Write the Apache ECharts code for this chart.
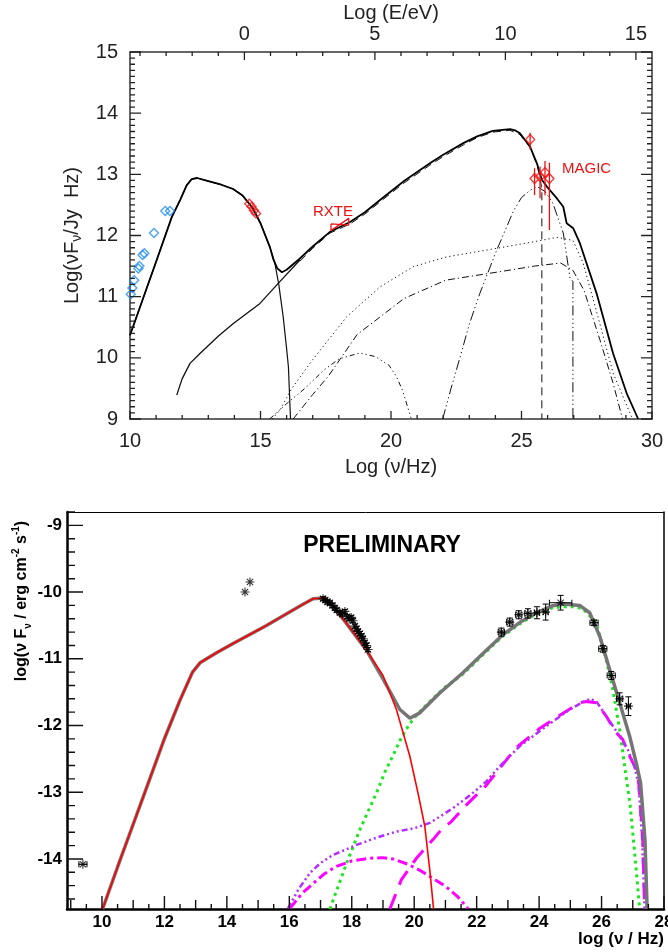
<!DOCTYPE html>
<html><head><meta charset="utf-8">
<script src="https://cdn.jsdelivr.net/npm/echarts@6/dist/echarts.min.js"></script>
<style>html,body{margin:0;padding:0;background:#fff}#c{width:668px;height:952px}</style>
</head><body><div id="c"></div>
<script>
// ================= TOP PANEL DATA (log nu [Hz], log nuFnu [Jy Hz]) =================
const topSync = [[10.0,10.37],[10.5,10.97],[11.0,11.57],[11.6,12.30],[11.92,12.58],[12.17,12.82],[12.36,12.92],[12.57,12.94],[13.0,12.89],[13.5,12.83],[13.95,12.76],[14.3,12.66],[14.7,12.45],[15.0,12.2],[15.36,11.81],[15.55,11.55],[15.7,11.2],[15.87,10.67],[16.0,10.15],[16.07,9.85],[16.15,9.0]];
const topTotal = [[10.0,10.37],[10.5,10.97],[11.0,11.57],[11.6,12.30],[11.92,12.58],[12.17,12.82],[12.36,12.92],[12.57,12.94],[13.0,12.89],[13.5,12.83],[13.95,12.76],[14.3,12.66],[14.7,12.45],[15.0,12.2],[15.36,11.81],[15.5,11.6],[15.65,11.46],[15.82,11.40],[16.0,11.44],[16.5,11.62],[17.0,11.82],[17.66,12.06],[18.0,12.13],[18.43,12.22],[19.0,12.38],[19.58,12.58],[20.5,12.89],[21.49,13.18],[22.0,13.32],[22.77,13.51],[23.3,13.62],[23.9,13.71],[24.56,13.74],[24.75,13.72],[24.94,13.67],[25.33,13.45],[25.59,13.18],[25.78,12.91],[25.97,12.80],[26.35,12.61],[26.6,12.47],[26.73,12.2],[26.98,12.12],[27.24,11.87],[27.88,11.05],[28.51,10.07],[29.03,9.42],[29.47,9.0]];
const topIC = [[11.79,9.39],[12.0,9.66],[12.3,9.91],[12.68,10.07],[13.4,10.36],[13.96,10.56],[14.98,10.89],[15.75,11.25],[16.51,11.6]];
const topDashed = [[16.51,11.58],[17.0,11.79],[17.66,12.04],[18.43,12.19],[19.0,12.35],[19.58,12.55],[20.5,12.86],[21.49,13.15],[22.0,13.29],[22.77,13.48],[23.3,13.6],[23.9,13.69],[24.56,13.72],[24.94,13.65],[25.33,13.44],[25.59,13.16],[25.72,12.92],[25.78,12.75],[25.78,9.0]];
const topDotted = [[15.45,9.0],[15.75,9.15],[16.2,9.5],[17.0,9.97],[18.3,10.67],[19.58,11.16],[20.85,11.49],[22.13,11.65],[24.05,11.79],[25.5,11.9],[26.36,11.97],[26.97,11.92],[27.36,11.55],[27.88,10.75],[28.51,9.75],[29.25,9.0]];
const topDashDot = [[16.25,9.0],[17.0,9.4],[17.6,9.7],[18.7,10.38],[19.77,10.73],[20.5,10.97],[22.1,11.27],[24.05,11.40],[25.5,11.5],[26.5,11.55],[26.97,11.43],[27.4,11.1],[28.0,10.3],[28.5,9.6],[28.87,9.0]];
const topLowBump = [[15.35,9.0],[16.0,9.25],[16.7,9.5],[17.43,9.8],[18.0,9.98],[18.8,10.08],[19.4,10.02],[19.92,9.88],[20.2,9.7],[20.44,9.47],[20.78,9.0]];
const topHighBump = [[21.98,9.0],[22.3,9.5],[22.64,10.0],[23.0,10.55],[23.4,11.05],[24.05,11.76],[24.7,12.41],[25.0,12.62],[25.33,12.74],[25.6,12.8],[25.9,12.72],[26.2,12.53],[26.6,12.04],[26.86,11.3],[26.97,11.25],[26.97,9.0]];
const radioPts = [[10.03,11.04],[10.09,11.14],[10.16,11.27],[10.32,11.46],[10.36,11.5],[10.48,11.68],[10.55,11.71],[10.92,12.04],[11.35,12.40],[11.53,12.40]];
const opticalPts = [[14.57,12.52],[14.66,12.47],[14.75,12.41],[14.83,12.36]];
const rxteBowtie = [[17.7,12.19],[18.38,12.17],[18.38,12.28],[17.7,12.08],[17.7,12.19]];
// MAGIC: [logNu, value, low, high]
const magicPts = [[25.33,13.57,13.41,13.68],[25.50,12.93,12.66,13.10],[25.71,12.96,12.61,13.13],[25.90,13.03,12.66,13.22],[26.07,12.93,12.09,13.19]];
// tick labels
const topNuTicks = [10,15,20,25,30];
const topYTicks = [9,10,11,12,13,14,15];
const LOGNU_PER_EV = 14.383;           // log10(nu/Hz) at E = 1 eV
const topETicks = [0,5,10,15];
const topEMinor = [-4,-3,-2,-1,1,2,3,4,6,7,8,9,11,12,13,14];

// ================= BOTTOM PANEL DATA (log nu [Hz], log nuFnu [erg cm-2 s-1]) =================
const botTotal = [[10.02,-14.75],[10.5,-14.12],[11.0,-13.48],[11.5,-12.84],[11.99,-12.21],[12.5,-11.62],[12.9,-11.2],[13.14,-11.06],[13.67,-10.91],[14.2,-10.77],[15.27,-10.5],[16.34,-10.21],[16.76,-10.10],[17.1,-10.09],[17.25,-10.13],[17.8,-10.45],[18.47,-10.87],[19.0,-11.3],[19.54,-11.76],[19.86,-11.89],[20.18,-11.81],[20.8,-11.52],[21.56,-11.21],[22.2,-10.92],[22.84,-10.64],[23.4,-10.45],[23.91,-10.31],[24.4,-10.21],[24.76,-10.18],[25.3,-10.2],[25.62,-10.31],[25.94,-10.66],[26.26,-11.16],[26.58,-11.66],[26.9,-12.16],[27.11,-12.56],[27.25,-12.86],[27.39,-13.71],[27.46,-14.75]];
const botSync = [[10.02,-14.75],[10.5,-14.12],[11.0,-13.48],[11.5,-12.84],[11.99,-12.21],[12.5,-11.62],[12.9,-11.2],[13.14,-11.06],[13.67,-10.91],[14.2,-10.77],[15.27,-10.5],[16.34,-10.21],[16.76,-10.10],[17.1,-10.09],[17.25,-10.13],[17.8,-10.45],[18.47,-10.87],[19.0,-11.25],[19.43,-11.76],[19.86,-12.46],[20.12,-13.01],[20.34,-13.51],[20.5,-14.17],[20.62,-14.75]];
const botSSC = [[17.3,-14.75],[17.83,-14.07],[18.26,-13.56],[18.79,-13.01],[19.06,-12.7],[19.32,-12.45],[19.59,-12.18],[19.86,-11.97],[20.12,-11.82],[20.5,-11.64],[21.0,-11.42],[21.56,-11.23],[22.2,-10.94],[22.84,-10.66],[23.4,-10.47],[23.91,-10.33],[24.4,-10.24],[24.76,-10.22],[25.1,-10.22],[25.4,-10.25],[25.83,-10.46],[26.15,-11.01],[26.36,-11.46],[26.58,-12.06],[26.74,-12.61],[26.92,-13.21],[27.12,-14.21],[27.22,-14.75]];
const botBump = [[16.02,-14.74],[16.4,-14.52],[16.76,-14.37],[17.1,-14.23],[17.51,-14.11],[18.0,-14.03],[18.58,-13.99],[19.0,-13.98],[19.32,-14.0],[19.8,-14.08],[20.18,-14.17],[20.6,-14.29],[21.03,-14.42],[21.4,-14.57],[21.72,-14.74]];
const botPurple = [[15.96,-14.74],[16.3,-14.45],[16.66,-14.21],[17.0,-14.06],[17.4,-13.94],[18.15,-13.79],[18.8,-13.68],[19.43,-13.59],[20.0,-13.54],[20.5,-13.46],[21.24,-13.24],[21.8,-13.04],[22.31,-12.84],[22.74,-12.61],[23.38,-12.31],[24.23,-12.01],[24.98,-11.76],[25.4,-11.65],[25.65,-11.6],[25.85,-11.65],[26.15,-11.86],[26.58,-12.16],[26.84,-12.36],[27.06,-12.62],[27.19,-12.9],[27.3,-13.7],[27.38,-14.75]];
const botMagDash = [[19.22,-14.75],[19.59,-14.31],[20.07,-13.99],[20.6,-13.71],[20.87,-13.56],[21.19,-13.44],[21.67,-13.19],[22.3,-12.9],[23.27,-12.33],[24.0,-12.05],[24.55,-11.88],[25.3,-11.66],[25.51,-11.64],[25.83,-11.66],[26.15,-11.86],[26.47,-12.11],[26.68,-12.21],[26.9,-12.46],[27.11,-12.66],[27.19,-12.85],[27.32,-13.71],[27.38,-14.75]];
// measured points: [logNu, value, xErr, yErr]
const botPoints = [[9.39,-14.08,0.13,0],[14.58,-10.0,0,0],[14.74,-9.85,0,0],
 [17.08,-10.1,0,0.03],[17.15,-10.12,0,0.03],[17.22,-10.15,0,0.03],[17.3,-10.16,0,0.03],[17.38,-10.2,0,0.03],[17.46,-10.24,0,0.03],[17.52,-10.27,0,0.03],[17.62,-10.31,0,0.03],[17.7,-10.33,0,0.03],[17.78,-10.29,0,0.03],[17.85,-10.37,0,0.03],[17.92,-10.4,0,0.03],[17.98,-10.38,0,0.03],[18.04,-10.43,0,0.03],[18.1,-10.51,0,0.03],[18.15,-10.55,0,0.03],[18.2,-10.59,0,0.03],[18.26,-10.62,0,0.03],[18.31,-10.66,0,0.03],[18.36,-10.7,0,0.03],[18.42,-10.76,0,0.03],[18.47,-10.8,0,0.03],[18.52,-10.86,0,0.03],
 [22.79,-10.60,0.1,0.06],[23.06,-10.45,0.1,0.06],[23.35,-10.34,0.1,0.06],[23.64,-10.32,0.1,0.07],[23.93,-10.31,0.08,0.09],[24.21,-10.30,0.08,0.12],[24.69,-10.16,0.36,0.11],
 [25.76,-10.46,0.13,0.04],[26.04,-10.85,0.13,0.05],[26.31,-11.25,0.13,0.06],[26.58,-11.6,0.1,0.09],[26.86,-11.71,0.06,0.14]];
const botXLabels = [10,12,14,16,18,20,22,24,26,28];
const botXOdd = [9,11,13,15,17,19,21,23,25,27];
const botYLabels = [-14,-13,-12,-11,-10,-9];

// ================= layout =================
const TOP_BOX = { left: 130, top: 52, width: 522, height: 367 };
const BOT_BOX = { left: 67, top: 512, width: 597, height: 397 };
const TOP_X = [10, 30], TOP_Y = [9, 15];
const BOT_X = [8.88, 28], BOT_Y = [-14.75, -8.8];

// tick mark lists: [side(0 bottom,1 top,2 left,3 right), value, length px]
const topTicks = [];
topNuTicks.forEach(v => topTicks.push([0, v, 8]));
for (let v = 11; v < 30; v++) if (v % 5) topTicks.push([0, v, 4]);
topETicks.forEach(e => topTicks.push([1, e + LOGNU_PER_EV, 8]));
topEMinor.forEach(e => topTicks.push([1, e + LOGNU_PER_EV, 4]));
topYTicks.forEach(v => { topTicks.push([2, v, 11]); topTicks.push([3, v, 11]); });
for (let k = 91; k < 150; k++) if (k % 10) { topTicks.push([2, k / 10, 5]); topTicks.push([3, k / 10, 5]); }
const botTicks = [];
botXLabels.forEach(v => botTicks.push([0, v, 13]));
botXOdd.forEach(v => botTicks.push([0, v, 9]));
for (let v = 9.5; v < 28; v += 1) botTicks.push([0, v, 5]);
botYLabels.forEach(v => botTicks.push([2, v, 16]));
for (let k = -73; k <= -44; k++) if (k % 5) botTicks.push([2, k / 5, 8]);

// turn tick specs into broken polyline data (values in axis units)
function tickData(ticks, xr, yr, box) {
  const dx = (xr[1] - xr[0]) / box.width, dy = (yr[1] - yr[0]) / box.height;
  const out = [];
  ticks.forEach(t => {
    const s = t[0], v = t[1], L = t[2];
    if (s === 0) out.push([v, yr[0]], [v, yr[0] + L * dy]);
    else if (s === 1) out.push([v, yr[1]], [v, yr[1] - L * dy]);
    else if (s === 2) out.push([xr[0], v], [xr[0] + L * dx, v]);
    else out.push([xr[1], v], [xr[1] - L * dx, v]);
    out.push(['-', '-']);
  });
  return out;
}

// ================= chart =================
const FONT = '"Liberation Sans", Arial, sans-serif';
const TOPC = '#333';

function errRender(color, cap) {
  return function (params, api) {
    const x = api.value(0), y = api.value(1), xe = api.value(2), ye = api.value(3);
    const st = { stroke: color, lineWidth: 1 };
    const ch = [];
    if (xe > 0) {
      const a = api.coord([x - xe, y]), b = api.coord([x + xe, y]);
      ch.push({ type: 'line', shape: { x1: a[0], y1: a[1], x2: b[0], y2: b[1] }, style: st });
      if (cap) {
        ch.push({ type: 'line', shape: { x1: a[0], y1: a[1] - cap, x2: a[0], y2: a[1] + cap }, style: st });
        ch.push({ type: 'line', shape: { x1: b[0], y1: b[1] - cap, x2: b[0], y2: b[1] + cap }, style: st });
      }
    }
    if (ye > 0) {
      const a = api.coord([x, y - ye]), b = api.coord([x, y + ye]);
      ch.push({ type: 'line', shape: { x1: a[0], y1: a[1], x2: b[0], y2: b[1] }, style: st });
      if (cap) {
        ch.push({ type: 'line', shape: { x1: a[0] - cap, y1: a[1], x2: a[0] + cap, y2: a[1] }, style: st });
        ch.push({ type: 'line', shape: { x1: b[0] - cap, y1: b[1], x2: b[0] + cap, y2: b[1] }, style: st });
      }
    }
    return { type: 'group', children: ch };
  };
}
function magicRender(params, api) {
  const x = api.value(0), lo = api.value(2), hi = api.value(3);
  const a = api.coord([x, lo]), b = api.coord([x, hi]);
  return { type: 'line', shape: { x1: a[0], y1: a[1], x2: b[0], y2: b[1] }, style: { stroke: '#f01010', lineWidth: 1.3 } };
}
const ASTER = 'path://M5 0 L5 10 M0 5 L10 5 M1.5 1.5 L8.5 8.5 M8.5 1.5 L1.5 8.5';

function ln(data, xi, yi, color, width, type, z) {
  return { type: 'line', xAxisIndex: xi, yAxisIndex: yi, data: data, showSymbol: false, symbol: 'none',
    lineStyle: { color: color, width: width, type: type || 'solid' }, z: z || 2, silent: true, clip: true };
}
const noTick = { show: false };

const chart = echarts.init(document.getElementById('c'), null, { renderer: 'canvas' });
chart.setOption({
  animation: false,
  backgroundColor: '#fff',
  grid: [
    { left: TOP_BOX.left, top: TOP_BOX.top, width: TOP_BOX.width, height: TOP_BOX.height, outerBoundsMode: 'none' },
    { left: BOT_BOX.left, top: BOT_BOX.top, width: BOT_BOX.width, height: BOT_BOX.height, outerBoundsMode: 'none' }
  ],
  xAxis: [
    { gridIndex: 0, type: 'value', position: 'bottom', min: TOP_X[0], max: TOP_X[1], interval: 5,
      axisLine: { show: true, onZero: false, lineStyle: { color: TOPC, width: 1.5 } },
      axisTick: noTick, minorTick: noTick, splitLine: { show: false },
      axisLabel: { fontSize: 20, fontFamily: FONT, color: '#222', margin: 12 },
      name: 'Log (ν/Hz)', nameLocation: 'middle', nameGap: 38,
      nameTextStyle: { fontSize: 20, fontFamily: FONT, color: '#222' } },
    { gridIndex: 0, type: 'value', position: 'top', min: TOP_X[0], max: TOP_X[1],
      axisLine: { show: true, onZero: false, lineStyle: { color: TOPC, width: 1.5 } },
      axisTick: noTick, splitLine: { show: false },
      axisLabel: { fontSize: 20, fontFamily: FONT, color: '#222', margin: 8,
        customValues: topETicks.map(e => e + LOGNU_PER_EV),
        formatter: v => String(Math.round(v - LOGNU_PER_EV)) },
      name: 'Log (E/eV)', nameLocation: 'middle', nameGap: 28,
      nameTextStyle: { fontSize: 20, fontFamily: FONT, color: '#222' } },
    { gridIndex: 1, type: 'value', position: 'bottom', min: BOT_X[0], max: BOT_X[1],
      axisLine: { show: true, onZero: false, lineStyle: { color: '#000', width: 2.5 } },
      axisTick: noTick,
      axisLabel: { fontSize: 17, fontWeight: 'bold', fontFamily: FONT, color: '#000', margin: 5, customValues: botXLabels },
      splitLine: { show: false } },
    { gridIndex: 1, type: 'value', position: 'top', min: BOT_X[0], max: BOT_X[1],
      axisLine: { show: true, onZero: false, lineStyle: { color: '#000', width: 1 } },
      axisTick: noTick, axisLabel: { show: false }, splitLine: { show: false } }
  ],
  yAxis: [
    { gridIndex: 0, type: 'value', position: 'left', min: TOP_Y[0], max: TOP_Y[1], interval: 1,
      axisLine: { show: true, onZero: false, lineStyle: { color: TOPC, width: 1.5 } },
      axisTick: noTick, minorTick: noTick, splitLine: { show: false },
      axisLabel: { fontSize: 20, fontFamily: FONT, color: '#222', margin: 12 },
      name: 'Log(νF{sub|ν}/Jy  Hz)', nameLocation: 'middle', nameGap: 46, nameRotate: 90,
      nameTextStyle: { fontSize: 20, fontFamily: FONT, color: '#222',
        rich: { sub: { fontSize: 14, fontFamily: FONT, color: '#222', padding: [10, 0, 0, 0] } } } },
    { gridIndex: 0, type: 'value', position: 'right', min: TOP_Y[0], max: TOP_Y[1],
      axisLine: { show: true, onZero: false, lineStyle: { color: TOPC, width: 1.5 } },
      axisTick: noTick, splitLine: { show: false }, axisLabel: { show: false } },
    { gridIndex: 1, type: 'value', position: 'left', min: BOT_Y[0], max: BOT_Y[1],
      axisLine: { show: true, onZero: false, lineStyle: { color: '#000', width: 2.5 } },
      axisTick: noTick,
      axisLabel: { fontSize: 17, fontWeight: 'bold', fontFamily: FONT, color: '#000', margin: 5, customValues: botYLabels },
      splitLine: { show: false } },
    { gridIndex: 1, type: 'value', position: 'right', min: BOT_Y[0], max: BOT_Y[1],
      axisLine: { show: true, onZero: false, lineStyle: { color: '#000', width: 1.5 } },
      axisTick: noTick, axisLabel: { show: false }, splitLine: { show: false } }
  ],
  series: [
    { type: 'line', xAxisIndex: 0, yAxisIndex: 0, data: tickData(topTicks, TOP_X, TOP_Y, TOP_BOX), showSymbol: false, symbol: 'none',
      connectNulls: false, clip: false, silent: true, z: 10, lineStyle: { color: '#222', width: 1.3 } },
    ln(topDotted, 0, 0, '#111', 1, [1.2, 3]),
    ln(topDashDot, 0, 0, '#111', 1, [7, 3, 1.2, 3]),
    ln(topLowBump, 0, 0, '#111', 1, [5, 3, 1.2, 3, 1.2, 3, 1.2, 3]),
    ln(topHighBump, 0, 0, '#111', 1, [10, 3, 1.2, 3, 1.2, 3, 1.2, 3]),
    ln(topDashed, 0, 0, '#111', 1, [8, 5]),
    ln(topIC, 0, 0, '#111', 1.3),
    ln(topSync, 0, 0, '#111', 1.2),
    ln(topTotal, 0, 0, '#000', 1.8),
    ln(rxteBowtie, 0, 0, '#f01010', 1.3),
    { type: 'scatter', xAxisIndex: 0, yAxisIndex: 0, data: radioPts, symbol: 'diamond', symbolSize: 9,
      itemStyle: { color: 'rgba(0,0,0,0)', borderColor: '#1f8ef1', borderWidth: 1.4 }, z: 5, silent: true },
    { type: 'scatter', xAxisIndex: 0, yAxisIndex: 0, data: opticalPts, symbol: 'diamond', symbolSize: 9,
      itemStyle: { color: 'rgba(0,0,0,0)', borderColor: '#f01010', borderWidth: 1.4 }, z: 5, silent: true },
    { type: 'custom', xAxisIndex: 0, yAxisIndex: 0, data: magicPts, renderItem: magicRender, encode: { x: 0, y: 1 }, z: 5, silent: true },
    { type: 'scatter', xAxisIndex: 0, yAxisIndex: 0, data: magicPts.map(p => [p[0], p[1]]), symbol: 'diamond', symbolSize: [9, 10],
      itemStyle: { color: 'rgba(0,0,0,0)', borderColor: '#f01010', borderWidth: 1.4 }, z: 6, silent: true },
    // bottom
    { type: 'line', xAxisIndex: 2, yAxisIndex: 2, data: tickData(botTicks, BOT_X, BOT_Y, BOT_BOX), showSymbol: false, symbol: 'none',
      connectNulls: false, clip: false, silent: true, z: 10, lineStyle: { color: '#111', width: 1.4 } },
    ln(botSSC, 2, 2, '#1ee61e', 3, [3, 4], 3),
    ln(botBump, 2, 2, '#ff00ff', 3, [10, 4, 3, 4], 3),
    ln(botMagDash, 2, 2, '#ff00ff', 3, [16, 10], 3),
    ln(botPurple, 2, 2, '#b52cff', 2.5, [6, 3, 2, 3, 2, 3, 2, 3], 3),
    ln(botTotal, 2, 2, '#757575', 3.5, 'solid', 4),
    ln(botSync, 2, 2, '#ff0000', 1.6, 'solid', 5),
    { type: 'custom', xAxisIndex: 2, yAxisIndex: 2, data: botPoints, renderItem: errRender('#000', 3), encode: { x: 0, y: 1 }, z: 6, silent: true },
    { type: 'scatter', xAxisIndex: 2, yAxisIndex: 2, data: botPoints.map(p => [p[0], p[1]]), symbol: ASTER, symbolSize: 9,
      itemStyle: { color: 'rgba(0,0,0,0)', borderColor: '#000', borderWidth: 1.1 }, z: 7, silent: true }
  ],
  graphic: [
    { type: 'text', x: 333, y: 212, silent: true,
      style: { text: 'RXTE', fontSize: 15, fontFamily: FONT, fill: '#f01010', align: 'center', verticalAlign: 'middle' } },
    { type: 'text', x: 562, y: 169, silent: true,
      style: { text: 'MAGIC', fontSize: 15, fontFamily: FONT, fill: '#f01010', align: 'left', verticalAlign: 'middle' } },
    { type: 'text', x: 382, y: 546, silent: true,
      style: { text: 'PRELIMINARY', fontSize: 23, fontWeight: 'bold', fontFamily: FONT, fill: '#000', align: 'center', verticalAlign: 'middle' } },
    { type: 'text', x: 664, y: 939, silent: true,
      style: { text: 'log (ν / Hz)', fontSize: 17, fontWeight: 'bold', fontFamily: FONT, fill: '#000', align: 'right', verticalAlign: 'middle' } },
    { type: 'text', x: 22, y: 601, rotation: Math.PI / 2, silent: true,
      style: { text: 'log(ν F{sub|ν} / erg cm{sup|-2} s{sup|-1})', fontSize: 16, fontWeight: 'bold', fontFamily: FONT, fill: '#000',
        align: 'center', verticalAlign: 'middle', lineHeight: 22,
        rich: { sub: { fontSize: 10, fontWeight: 'bold', fontFamily: FONT, fill: '#000', verticalAlign: 'bottom', lineHeight: 22 },
                sup: { fontSize: 10, fontWeight: 'bold', fontFamily: FONT, fill: '#000', verticalAlign: 'top', lineHeight: 22 } } } }
  ]
});
</script>
</body></html>
